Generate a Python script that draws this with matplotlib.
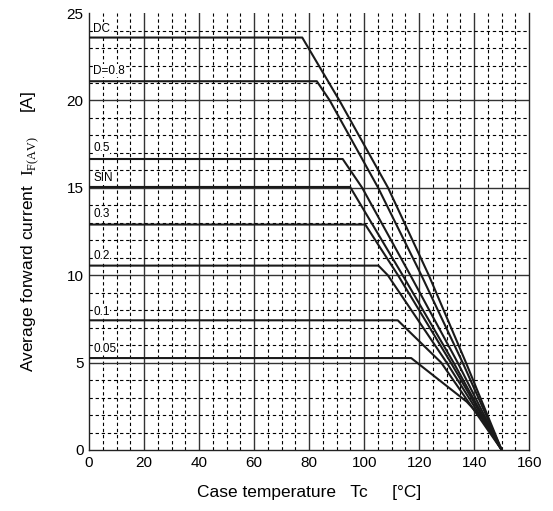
import numpy as np
import matplotlib.pyplot as plt

plt.rcParams['font.family'] = ['Liberation Sans', 'DejaVu Sans']
plt.rcParams['mathtext.fontset'] = 'custom'
plt.rcParams['mathtext.rm'] = 'Liberation Serif'

# derating curves: (Tc, IF(AV)) points
labels = ['DC', 'D=0.8', '0.5', 'SIN', '0.3', '0.2', '0.1', '0.05']
tc = [
    [0, 77.5, 91.0, 108.7, 123.5, 137.0, 150],
    [0, 82.8, 87.5, 105.1, 120.8, 135.8, 150],
    [0, 92.2, 99.3, 116.8, 134.0, 150],
    [0, 94.9, 114.0, 132.5, 150],
    [0, 100.4, 112.3, 131.5, 150],
    [0, 105.2, 108.6, 130.0, 150],
    [0, 112.2, 128.0, 150],
    [0, 117.1, 137.3, 143.4, 150],
]
amps = [
    [23.6, 23.6, 20, 15, 10, 5, 0],
    [21.1, 21.1, 20, 15, 10, 5, 0],
    [16.65, 16.65, 15, 10, 5, 0],
    [15.05, 15.05, 10, 5, 0],
    [12.9, 12.9, 10, 5, 0],
    [10.55, 10.55, 10, 5, 0],
    [7.42, 7.42, 5, 0],
    [5.26, 5.26, 2.76, 1.72, 0],
]
# label heights (y of the small text above each line)
label_y = [24.1, 21.7, 17.3, 15.55, 13.5, 11.1, 7.9, 5.8]

fig = plt.figure(figsize=(5.53, 5.11), dpi=100)
ax = fig.add_axes([0.161, 0.1194, 0.796, 0.855])

# grid
for x in np.arange(5, 160, 5):
    if x % 20 == 0:
        ax.axvline(x, color='#333333', lw=1.0, zorder=1)
    else:
        ax.axvline(x, color='black', lw=0.8, ls=(0, (3, 2.5)), zorder=1)
for y in np.arange(1, 25, 1):
    if y % 5 == 0:
        ax.axhline(y, color='#333333', lw=1.0, zorder=1)
    else:
        ax.axhline(y, color='black', lw=0.8, ls=(0, (3, 2.5)), zorder=1)

for x, y in zip(tc, amps):
    ax.plot(x, y, color='#1a1a1a', lw=1.5, zorder=3)

for lab, ly in zip(labels, label_y):
    ax.text(1.5, ly, lab, fontsize=8.5, ha='left', va='center', zorder=4,
            bbox=dict(facecolor='white', edgecolor='none', pad=0.3))

ax.set_xlim(0, 160)
ax.set_ylim(0, 25)
ax.set_xticks(np.arange(0, 161, 20))
ax.set_yticks(np.arange(0, 26, 5))
ax.tick_params(length=0, labelsize=11, pad=4)
ax.spines['top'].set_visible(False)
for s in ['left', 'bottom', 'right']:
    ax.spines[s].set_color('#222222')
    ax.spines[s].set_linewidth(1.0)

ax.set_xlabel('Case temperature   Tc     [\u00b0C]', fontsize=12.5, labelpad=11)
ax.set_ylabel(r'Average forward current  $\mathrm{I}_{\mathrm{F(AV)}}$     [A]',
              fontsize=12.5, labelpad=18)

fig.savefig('out.png', dpi=100)
